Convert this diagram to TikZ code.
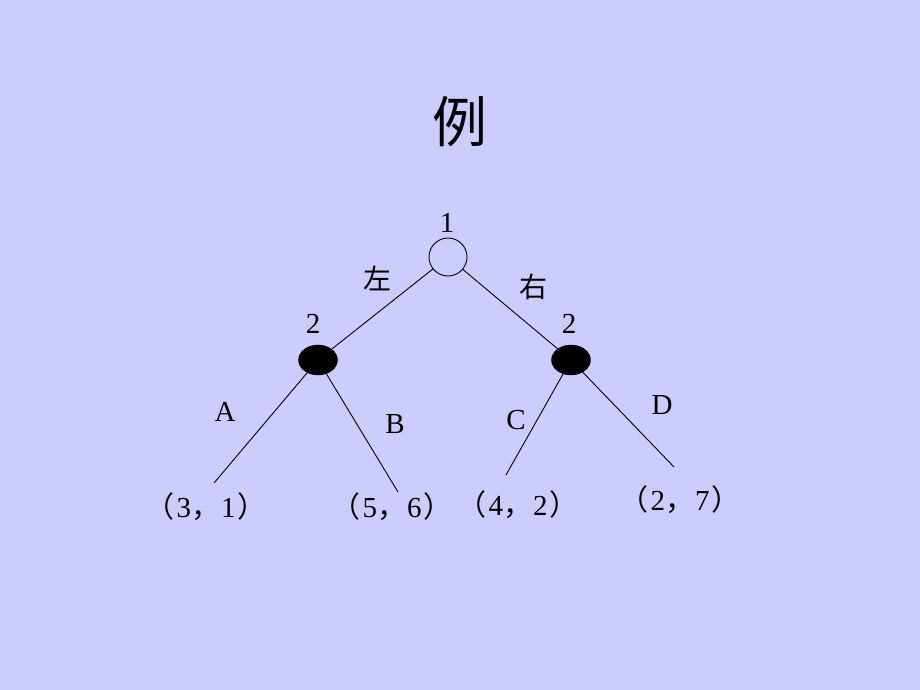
\documentclass[tikz,border=0pt]{standalone}
\usepackage{fontspec}
\setmainfont{Liberation Serif}
\newfontfamily\cjk{Noto Sans CJK SC}
\usetikzlibrary{shapes.geometric}
\definecolor{bg}{RGB}{204,204,255}
\newcommand{\payoff}[2]{{\cjk（}\kern2pt#1{\cjk，}\kern1pt#2\kern2pt{\cjk）}}
\begin{document}
\begin{tikzpicture}[x=1pt,y=-1pt,
  edge/.style={draw=black,line width=0.9pt},
  txt/.style={inner sep=0pt,font=\fontsize{29}{32}\selectfont},
  cjktxt/.style={inner sep=0pt,font=\fontsize{28}{30}\selectfont\cjk},
  pay/.style={inner sep=0pt,font=\fontsize{29}{32}\selectfont},
  opennode/.style={circle,draw=black,line width=0.9pt,minimum size=38pt,inner sep=0pt},
  blacknode/.style={ellipse,fill=black,draw=black,minimum width=39pt,minimum height=30pt,inner sep=0pt}]
\fill[bg] (0,0) rectangle (920,690);
\useasboundingbox (0,0) rectangle (920,690);
\node[inner sep=0pt,font=\fontsize{55}{60}\selectfont\cjk] (title) at (460,122) {例};
\node[opennode] (r) at (448,257) {};
\node[blacknode] (l) at (318,360) {};
\node[blacknode] (rt) at (571,360) {};
\node[txt] (n1) at (447,223) {1};
\node[txt] (n2l) at (313,324) {2};
\node[txt] (n2r) at (569,324) {2};
\node[cjktxt] (zuo) at (377,278) {左};
\node[cjktxt] (you) at (533,287) {右};
\node[txt] (la) at (225,412) {A};
\node[txt] (lb) at (395,424) {B};
\node[txt] (lc) at (516,420) {C};
\node[txt] (ld) at (662,405) {D};
\coordinate (ea) at (214,483);
\coordinate (eb) at (398,492);
\coordinate (ec) at (506,475);
\coordinate (ed) at (674,467);
\node[pay] (p1) at (206,507) {\payoff{3}{1}};
\node[pay] (p2) at (392,507) {\payoff{5}{6}};
\node[pay] (p3) at (518,505) {\payoff{4}{2}};
\node[pay] (p4) at (680,500) {\payoff{2}{7}};
\draw[edge] (r) -- (l);
\draw[edge] (r) -- (rt);
\draw[edge] (l) -- (ea);
\draw[edge] (l) -- (eb);
\draw[edge] (rt) -- (ec);
\draw[edge] (rt) -- (ed);
\end{tikzpicture}
\end{document}
